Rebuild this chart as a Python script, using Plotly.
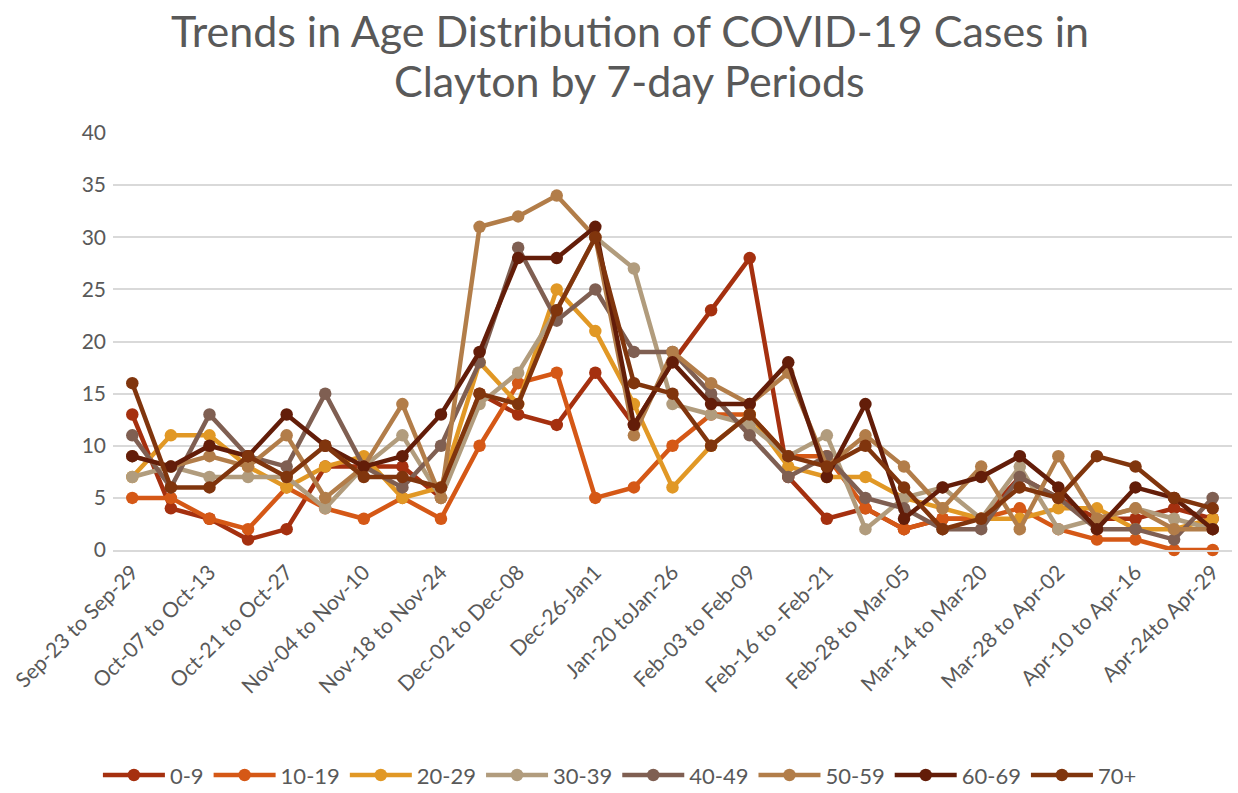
import plotly.graph_objects as go

periods = [
    "Sep-23 to Sep-29", "Sep-30 to Oct-06", "Oct-07 to Oct-13", "Oct-14 to Oct-20",
    "Oct-21 to Oct-27", "Oct-28 to Nov-03", "Nov-04 to Nov-10", "Nov-11 to Nov-17",
    "Nov-18 to Nov-24", "Nov-25 to Dec-01", "Dec-02 to Dec-08", "Dec-09 to Dec-25",
    "Dec-26-Jan1", "Jan-02 to Jan-19", "Jan-20 toJan-26", "Jan-27 to Feb-02",
    "Feb-03 to Feb-09", "Feb-10 to Feb-15", "Feb-16 to -Feb-21", "Feb-22 to Feb-27",
    "Feb-28 to Mar-05", "Mar-06 to Mar-13", "Mar-14 to Mar-20", "Mar-21 to Mar-27",
    "Mar-28 to Apr-02", "Apr-03 to Apr-09", "Apr-10 to Apr-16", "Apr-17 to Apr-23",
    "Apr-24to Apr-29",
]
tick_labels = periods[::2]

age_0_9 = [13, 4, 3, 1, 2, 8, 8, 8, 5, 15, 13, 12, 17, 12, 18, 23, 28, 7, 3, 4, 2, 3, 3, 7, 5, 3, 3, 4, 3]
age_10_19 = [5, 5, 3, 2, 6, 4, 3, 5, 3, 10, 16, 17, 5, 6, 10, 13, 13, 9, 9, 4, 2, 3, 3, 4, 2, 1, 1, 0, 0]
age_20_29 = [7, 11, 11, 8, 6, 8, 9, 5, 6, 18, 14, 25, 21, 14, 6, 10, 13, 8, 7, 7, 5, 4, 3, 3, 4, 4, 2, 2, 3]
age_30_39 = [7, 8, 7, 7, 7, 4, 8, 11, 5, 14, 17, 23, 30, 27, 14, 13, 12, 9, 11, 2, 5, 6, 3, 8, 2, 3, 4, 3, 2]
age_40_49 = [11, 6, 13, 9, 8, 15, 8, 6, 10, 18, 29, 22, 25, 19, 19, 15, 11, 7, 9, 5, 4, 2, 2, 7, 5, 2, 2, 1, 5]
age_50_59 = [9, 8, 9, 8, 11, 5, 8, 14, 5, 31, 32, 34, 30, 11, 19, 16, 14, 17, 8, 11, 8, 4, 8, 2, 9, 3, 4, 2, 2]
age_60_69 = [9, 8, 10, 9, 13, 10, 8, 9, 13, 19, 28, 28, 31, 12, 18, 14, 14, 18, 7, 14, 3, 6, 7, 9, 6, 2, 6, 5, 2]
age_70_plus = [16, 6, 6, 9, 7, 10, 7, 7, 6, 15, 14, 23, 30, 16, 15, 10, 13, 9, 8, 10, 6, 2, 3, 6, 5, 9, 8, 5, 4]

series_names = ["0-9", "10-19", "20-29", "30-39", "40-49", "50-59", "60-69", "70+"]
series_values = [age_0_9, age_10_19, age_20_29, age_30_39, age_40_49, age_50_59, age_60_69, age_70_plus]
colors = ["#A5300F", "#D55816", "#E19825", "#B19C7D", "#7F5F52", "#B27D49", "#631D09", "#80350D"]

title_lines = ["Trends in Age Distribution of COVID-19 Cases in", "Clayton by 7-day Periods"]

FONT = "Lato, Carlito, Calibri, 'Open Sans', sans-serif"
TXT = "#595959"

fig = go.Figure()
for name, vals, col in zip(series_names, series_values, colors):
    fig.add_trace(go.Scatter(
        x=periods, y=vals, name=name, mode="lines+markers",
        line=dict(color=col, width=4.5),
        marker=dict(color=col, size=12.5),
        cliponaxis=False,
    ))

# title as two lines placed above the plot area (paper coords: 0 = plot bottom, 1 = plot top)
for txt, ypos in zip(title_lines, [1.247, 1.126]):
    fig.add_annotation(
        text=txt, xref="paper", yref="paper", x=0.4618, y=ypos,
        xanchor="center", yanchor="middle", showarrow=False,
        font=dict(family=FONT, size=43, color=TXT),
    )

fig.update_layout(
    width=1238, height=793,
    template="none",
    margin=dict(l=113, r=6, t=133, b=243, autoexpand=False),
    plot_bgcolor="white", paper_bgcolor="white",
    font=dict(family=FONT, color=TXT, size=20),
    xaxis=dict(
        type="category", range=[-0.5, 28.5],
        tickmode="array", tickvals=tick_labels, ticktext=tick_labels,
        tickangle=-45, showgrid=False, showline=True, linecolor="#D9D9D9", linewidth=1.5,
        ticks="", tickfont=dict(size=21, color=TXT), automargin=False, zeroline=False,
    ),
    yaxis=dict(
        range=[0, 40], tick0=0, dtick=5, showgrid=True, gridcolor="#D9D9D9", gridwidth=1.5,
        zeroline=False, showline=False, ticks="", tickfont=dict(size=21, color=TXT),
        automargin=False, ticklabelstandoff=6,
    ),
    legend=dict(
        orientation="h", x=0.453, xanchor="center", y=-0.54, yanchor="middle",
        font=dict(size=22, color=TXT), bgcolor="rgba(0,0,0,0)", traceorder="normal",
        itemwidth=62,
    ),
    showlegend=True,
    hovermode=False,
)

fig.write_html(
    "out.html",
    config={"displayModeBar": False},
    post_script="document.body.style.margin='0';document.body.style.overflow='hidden';",
)
